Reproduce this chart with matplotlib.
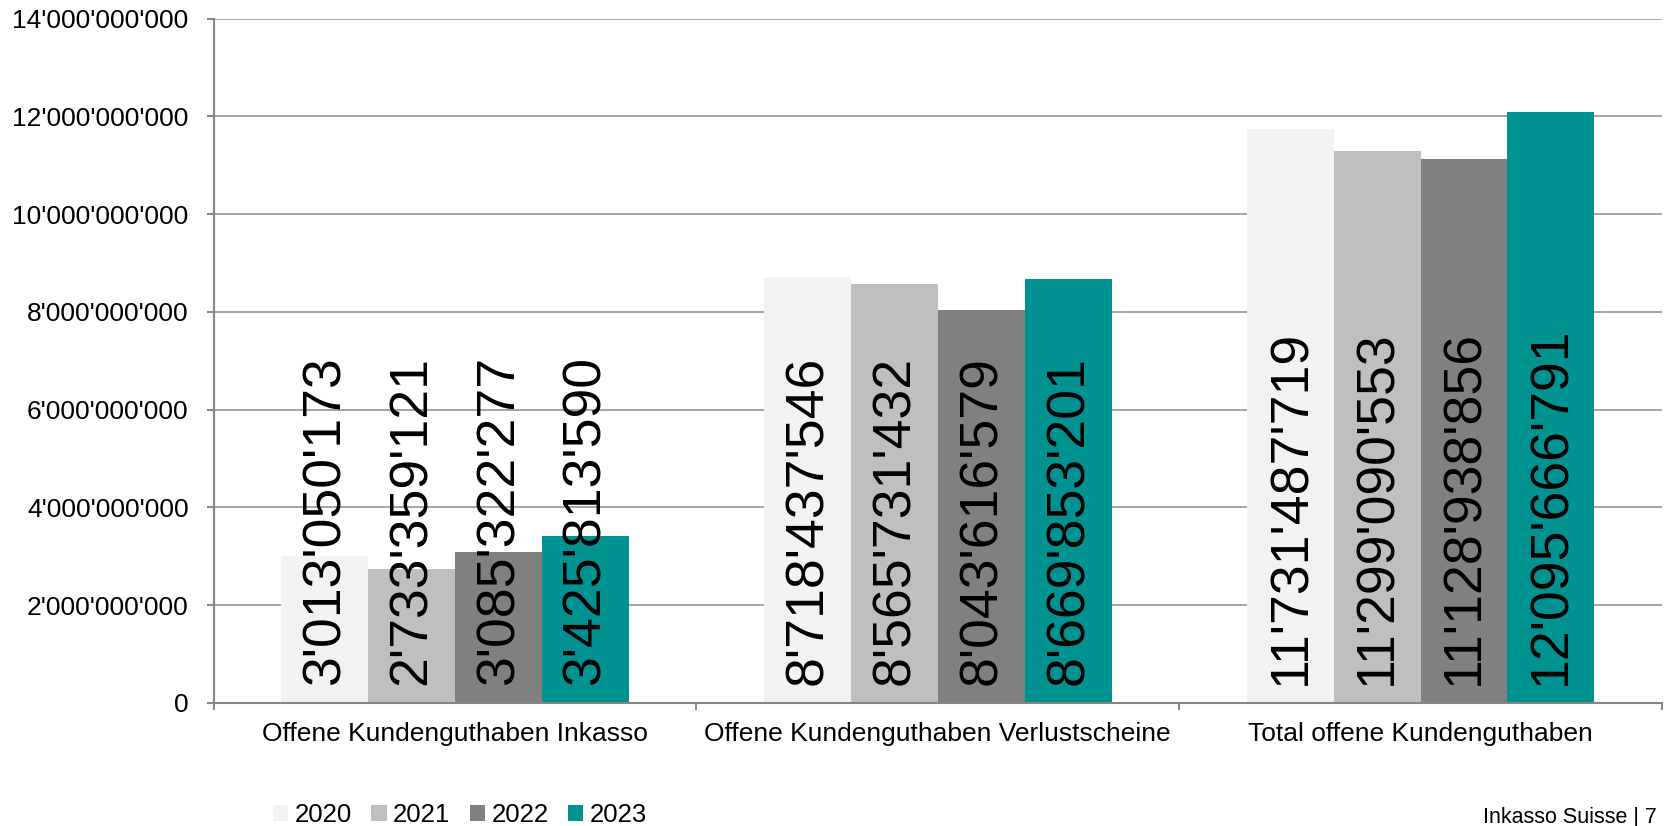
import matplotlib
matplotlib.use("Agg")
import matplotlib.pyplot as plt
from matplotlib.patches import Patch
import numpy as np

plt.rcParams['font.family'] = ['Liberation Sans', 'DejaVu Sans']

categories = ['Offene Kundenguthaben Inkasso',
              'Offene Kundenguthaben Verlustscheine',
              'Total offene Kundenguthaben']
years = ['2020', '2021', '2022', '2023']
values_2020 = [3013050173, 8718437546, 11731487719]
values_2021 = [2733359121, 8565731432, 11299090553]
values_2022 = [3085322277, 8043616579, 11128938856]
values_2023 = [3425813590, 8669853201, 12095666791]
series = [values_2020, values_2021, values_2022, values_2023]
colors = ['#F2F2F2', '#BFBFBF', '#808080', '#009191']
yticks = np.arange(0, 14e9 + 1, 2e9)


def swiss(v):
    return f"{int(round(v)):,}".replace(",", "'")


W, H = 1669, 826
fig = plt.figure(figsize=(W / 100, H / 100), dpi=100)
ax = fig.add_axes([213.5 / W, 1 - 703 / H, (1662 - 213.5) / W, (703 - 18.5) / H])

bar_w = 0.18
centers = np.arange(len(categories)) + 0.5
for j, (vals, col) in enumerate(zip(series, colors)):
    xs = centers + (j - 1.5) * bar_w
    ax.bar(xs, vals, width=bar_w, color=col, linewidth=0, zorder=2)
    for x, v in zip(xs, vals):
        ax.annotate(swiss(v), (x, 0), xytext=(0.5, 13), textcoords='offset points',
                    rotation=90, ha='center', va='bottom', fontsize=38.5,
                    color='black', zorder=3)

ax.set_xlim(0, len(categories))
ax.set_ylim(0, 14e9)
ax.set_yticks(yticks)
ax.set_yticklabels([swiss(v) for v in yticks])
ax.yaxis.grid(True, color='#8C8C8C', linewidth=1.1)
ax.set_axisbelow(True)

# category boundaries as ticks, labels centered on minor ticks
ax.set_xticks(np.arange(len(categories) + 1))
ax.set_xticklabels([])
ax.set_xticks(centers, minor=True)
ax.set_xticklabels(categories, minor=True)
ax.tick_params(axis='x', which='major', direction='out', length=5,
               width=1.4, color='#868686')
ax.tick_params(axis='x', which='minor', length=0, pad=14, labelsize=19)
ax.tick_params(axis='y', direction='out', length=5, width=1.4,
               color='#868686', pad=13, labelsize=19)

for s in ['top', 'right']:
    ax.spines[s].set_visible(False)
for s in ['left', 'bottom']:
    ax.spines[s].set_color('#868686')
    ax.spines[s].set_linewidth(1.5)

handles = [Patch(facecolor=c, edgecolor='none', label=y) for c, y in zip(colors, years)]
fig.legend(handles=handles, loc='center left', bbox_to_anchor=(273 / W, 1 - 815 / H),
           ncol=4, frameon=False, fontsize=18.5, borderpad=0, borderaxespad=0,
           handlelength=0.6, handleheight=0.6, handletextpad=0.25,
           columnspacing=0.75)

fig.text(1657 / W, 1 - 818 / H, 'Inkasso Suisse | 7', ha='right', va='center',
         fontsize=15.5)

fig.savefig('out.png', dpi=100)
